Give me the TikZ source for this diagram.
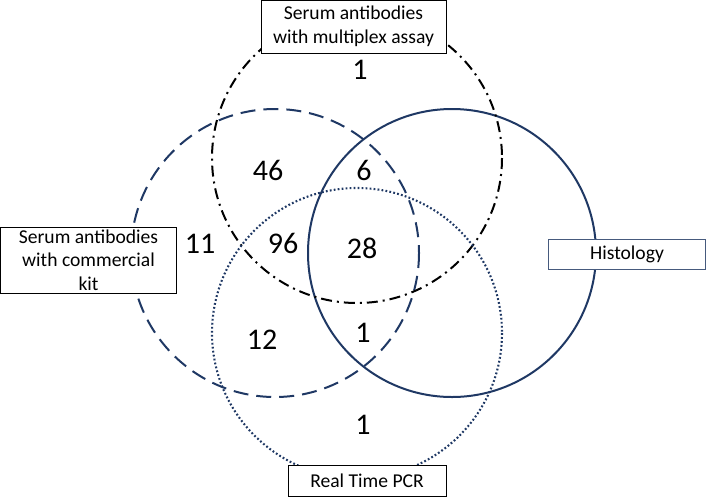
\documentclass[tikz,border=0pt]{standalone}
\usepackage{fontspec}
\setmainfont{Carlito}
\usetikzlibrary{positioning}
\definecolor{navy}{RGB}{31, 56, 100}
\definecolor{boxline}{RGB}{70, 90, 125}

\begin{document}
\begin{tikzpicture}[x=1pt, y=-1pt,
        setbox/.style={draw, fill=white, line width=0.9pt, align=center, inner sep=0pt,
            font=\fontsize{19.6}{23.5}\selectfont},
        count/.style={font=\fontsize{30}{33}\selectfont}]
        \useasboundingbox (0,0) rectangle (706,496);

        % the four sets
        \draw[navy, line width=2pt, dash pattern=on 15pt off 8pt] (275,253) circle (144);
        \draw[navy, line width=2pt] (452,253) circle (144);
        \draw[black, line width=2pt, dash pattern=on 11pt off 5pt on 2pt off 5pt] (357,158) circle (145);
        \draw[navy, line width=2.1pt, dash pattern=on 1.8pt off 2.2pt] (357,333) circle (145);

        % set labels
        \node[setbox, minimum width=185pt, minimum height=53pt] (multiplex) at (353.5,26.5) {Serum antibodies\\with multiplex assay};
        \node[setbox, minimum width=176pt, minimum height=66pt] (commercial) at (88.5,260) {Serum antibodies\\with commercial\\kit};
        \node[setbox, draw=boxline, minimum width=157pt, minimum height=30pt] (histology) at (627,254) {Histology};
        \node[setbox, minimum width=158pt, minimum height=31pt] (pcr) at (367,480.5) {Real Time PCR};

        % counts
        \node[count] (onlymulti) at (360,70) {1};
        \node[count] (n46) at (268,170) {46};
        \node[count] (n6) at (364,170) {6};
        \node[count] (n11) at (200,244) {11};
        \node[count] (n96) at (283,243) {96};
        \node[count] (n28) at (362,248) {28};
        \node[count] (n12) at (262,340) {12};
        \node[count] (kithistpcr) at (363,333) {1};
        \node[count] (onlypcr) at (363,425) {1};
    \end{tikzpicture}
\end{document}
